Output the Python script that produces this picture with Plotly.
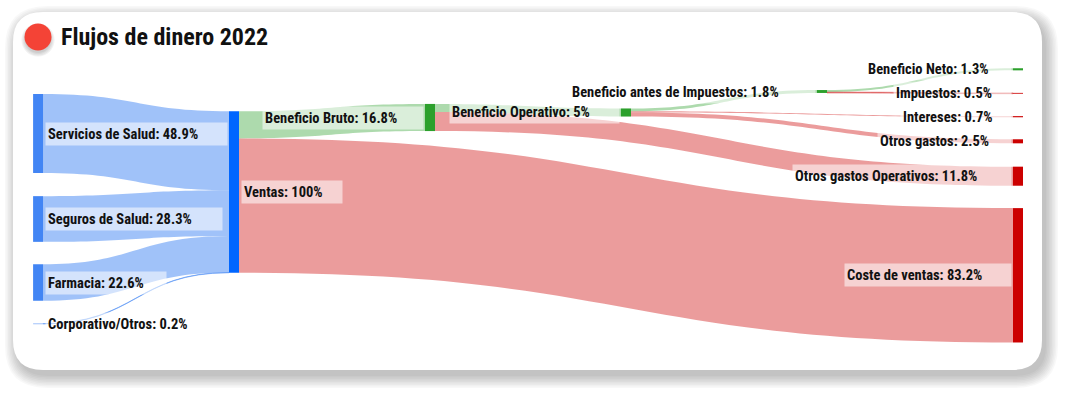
import plotly.graph_objects as go

# ---------------- data ----------------
node_names = [
    "Servicios de Salud", "Seguros de Salud", "Farmacia", "Corporativo/Otros",
    "Ventas", "Beneficio Bruto", "Coste de ventas", "Beneficio Operativo",
    "Otros gastos Operativos", "Beneficio antes de Impuestos", "Intereses",
    "Otros gastos", "Beneficio Neto", "Impuestos",
]
link_source = ["Servicios de Salud", "Seguros de Salud", "Farmacia", "Corporativo/Otros",
               "Ventas", "Ventas", "Beneficio Bruto", "Beneficio Bruto",
               "Beneficio Operativo", "Beneficio Operativo", "Beneficio Operativo",
               "Beneficio antes de Impuestos", "Beneficio antes de Impuestos"]
link_target = ["Ventas", "Ventas", "Ventas", "Ventas",
               "Beneficio Bruto", "Coste de ventas", "Beneficio Operativo", "Otros gastos Operativos",
               "Beneficio antes de Impuestos", "Intereses", "Otros gastos",
               "Beneficio Neto", "Impuestos"]
link_values = [48.9, 28.3, 22.6, 0.2, 16.8, 83.2, 5.0, 11.8, 1.8, 0.7, 2.5, 1.3, 0.5]
node_group = ["income", "income", "income", "income", "revenue", "profit", "cost", "profit",
              "cost", "profit", "cost", "cost", "profit", "cost"]
title_text = "Flujos de dinero 2022"

# ---------------- layout / style ----------------
W, H = 1068, 395
FONT = "Roboto Condensed, Open Sans Condensed, Roboto, sans-serif"
node_col = [0, 0, 0, 0, 1, 2, 5, 3, 5, 4, 5, 5, 5, 5]
node_cy_px = [133.5, 219, 282.5, 323.8, 192, 117.5, 275.3, 112.5, 176.2, 91.5, 116.7, 141.3, 69.3, 93.3]
label_side = ["r", "r", "r", "r", "r", "l", "l", "l", "l", "l", "l", "l", "l", "l"]
label_box_w = [183, 178, 122, 175, 102, 162, 168, 171, 220, 247, 112, 135, 147, 119]
node_colors = {"income": "#4285f4", "revenue": "#0066ff", "profit": "#2ca02c", "cost": "#cc0000"}
link_colors = {"revenue": "rgba(66,133,244,0.5)", "profit": "rgba(44,160,44,0.39)",
               "cost": "rgba(204,0,0,0.39)"}
DOM_L, DOM_R, DOM_T, DOM_B = 38, 1018, 60, 350
THICK = 10
NCOLS = 5

idx = {n: i for i, n in enumerate(node_names)}
src = [idx[s] for s in link_source]
tgt = [idx[t] for t in link_target]

# node values
vin = [0.0] * len(node_names)
vout = [0.0] * len(node_names)
for s, t, v in zip(src, tgt, link_values):
    vout[s] += v
    vin[t] += v
node_val = [round(max(a, b), 1) for a, b in zip(vin, vout)]

dom_w = DOM_R - DOM_L
dom_h = DOM_B - DOM_T
col_sum = {}
col_cnt = {}
for i, c in enumerate(node_col):
    col_sum[c] = col_sum.get(c, 0) + node_val[i]
    col_cnt[c] = col_cnt.get(c, 0) + 1
KY = 1.615
pad = (dom_h - KY * col_sum[NCOLS]) / (col_cnt[NCOLS] - 1)

node_x = [max(c / NCOLS, 1e-4) for c in node_col]
node_y = [(cy - DOM_T) / dom_h for cy in node_cy_px]

fig = go.Figure()
fig.add_trace(go.Sankey(
    arrangement="fixed",
    domain=dict(x=[DOM_L / W, DOM_R / W], y=[1 - DOM_B / H, 1 - DOM_T / H]),
    node=dict(
        label=[""] * len(node_names),
        x=node_x, y=node_y,
        pad=pad, thickness=THICK,
        color=[node_colors[g] for g in node_group],
        line=dict(width=0),
    ),
    link=dict(
        source=src, target=tgt, value=link_values,
        color=[link_colors[node_group[t]] for t in tgt],
    ),
    hoverinfo="none",
))

def px(x):
    return x / W

def py(y):
    return 1 - y / H

def rrect(x0, y0, x1, y1, r):
    pts = [
        ("M", [(x0 + r, y0)]),
        ("L", [(x1 - r, y0)]),
        ("Q", [(x1, y0), (x1, y0 + r)]),
        ("L", [(x1, y1 - r)]),
        ("Q", [(x1, y1), (x1 - r, y1)]),
        ("L", [(x0 + r, y1)]),
        ("Q", [(x0, y1), (x0, y1 - r)]),
        ("L", [(x0, y0 + r)]),
        ("Q", [(x0, y0), (x0 + r, y0)]),
    ]
    s = ""
    for cmd, ps in pts:
        s += cmd + " " + " ".join(f"{px(a):.6f},{py(b):.6f}" for a, b in ps) + " "
    return s + "Z"

shapes = []
# card shadow
for i in range(9):
    e = 1.5 * i
    shapes.append(dict(type="path", xref="paper", yref="paper", layer="below",
                       path=rrect(13 + 4 - e, 12 + 6 - e, 1042 + 4 + e, 370 + 6 + e, 30 + e),
                       fillcolor="rgba(0,0,0,0.028)", line=dict(width=0)))
shapes.append(dict(type="path", xref="paper", yref="paper", layer="below",
                   path=rrect(13, 12, 1042, 370, 30), fillcolor="white", line=dict(width=0)))
# title dot shadow + dot
for i in range(4):
    e = 1.2 * i
    shapes.append(dict(type="circle", xref="paper", yref="paper", layer="below",
                       x0=px(25 - e), x1=px(51 + e), y0=py(27 - e), y1=py(53 + e),
                       fillcolor="rgba(0,0,0,0.05)", line=dict(width=0)))
shapes.append(dict(type="circle", xref="paper", yref="paper", layer="below",
                   x0=px(24.5), x1=px(51.5), y0=py(23.5), y1=py(50.5),
                   fillcolor="#f44336", line=dict(width=0)))

annotations = [dict(text=f"<b>{title_text}</b>", x=px(59), y=py(37), xref="paper", yref="paper",
                    xanchor="left", yanchor="middle", showarrow=False,
                    font=dict(family=FONT, size=24, color="#111111"))]

for i, name in enumerate(node_names):
    cx = DOM_L + node_x[i] * dom_w
    cy = node_cy_px[i]
    w = label_box_w[i]
    if label_side[i] == "r":
        ax, anchor = cx + THICK / 2 + 2, "left"
    else:
        ax, anchor = cx - THICK / 2 - 1, "right"
    annotations.append(dict(
        text=f"<b>{name}: {node_val[i]:g}%</b>",
        x=px(ax), y=py(cy), xref="paper", yref="paper",
        xanchor=anchor, yanchor="middle", showarrow=False,
        width=w - 6, height=18, align="left", valign="middle",
        bgcolor="rgba(255,255,255,0.55)", borderpad=2, borderwidth=1,
        bordercolor="rgba(0,0,0,0)",
        font=dict(family=FONT, size=14.5, color="#111111"),
    ))

fig.update_layout(
    width=W, height=H,
    margin=dict(l=0, r=0, t=0, b=0),
    paper_bgcolor="white", plot_bgcolor="white",
    shapes=shapes, annotations=annotations,
    font=dict(family=FONT),
)

fig.write_html("out.html", config={"displayModeBar": False},
               post_script="document.body.style.margin='0';")
